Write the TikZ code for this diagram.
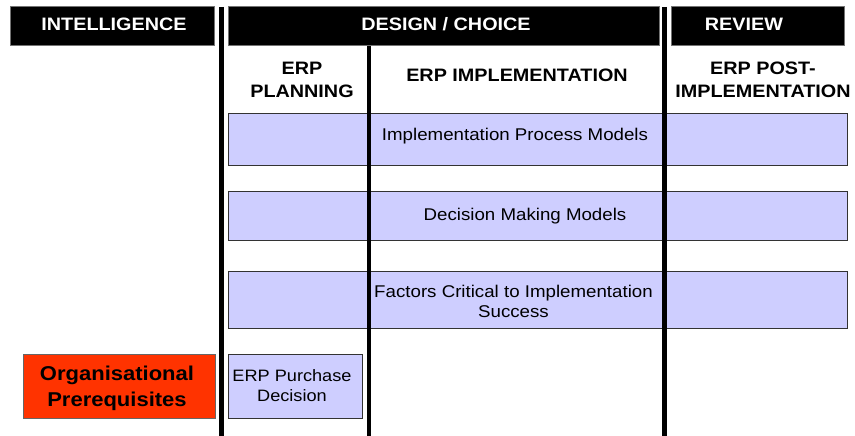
\documentclass[tikz,border=0pt]{standalone}
\usepackage{fontspec}
\setmainfont[FakeStretch=1.1]{Liberation Sans}
\definecolor{lav}{RGB}{206,206,255}
\definecolor{prereq}{RGB}{255,51,0}
\begin{document}
\begin{tikzpicture}[x=1pt,y=-1pt,
  bar/.style={fill=black,draw=black!55,line width=1pt},
  cell/.style={draw=black!80,line width=1pt,anchor=north west,inner sep=0pt,outer sep=0pt},
  rowbox/.style={cell,fill=lav},
  divider/.style={line width=4.5pt,black},
  head/.style={text=white,font=\fontsize{18}{22}\selectfont\bfseries,anchor=base,inner sep=0pt},
  colhead/.style={font=\fontsize{18}{22.7}\selectfont\bfseries,align=center,inner sep=0pt},
  rowtext/.style={font=\fontsize{17}{20}\selectfont,align=center,inner sep=0pt},
]
\useasboundingbox[fill=white] (0,0) rectangle (855,436);

% phase bars
\draw[bar] (10,7) rectangle (214,46);
\draw[bar] (228,7) rectangle (659,46);
\draw[bar] (671,7) rectangle (844,46);
\node[head] (intel) at (114,30.5) {INTELLIGENCE};
\node[head] (design) at (446,30.5) {DESIGN / CHOICE};
\node[head] (review) at (744,30.5) {REVIEW};

% column headings
\node[colhead,anchor=north] (planning) at (302,62) {ERP\\PLANNING};
\node[colhead,anchor=base] (impl) at (517,82) {ERP IMPLEMENTATION};
\node[colhead,anchor=north] (post) at (763,62) {ERP POST-\\IMPLEMENTATION};

% model rows spanning the design and review phases
\node[rowbox,minimum width=619pt,minimum height=51pt] (row1) at (228,114) {};
\node[rowbox,minimum width=619pt,minimum height=48.5pt] (row2) at (228,191.5) {};
\node[rowbox,minimum width=619pt,minimum height=57pt] (row3) at (228,271) {};
\node[rowtext,anchor=base] (ipm) at (515,140.5) {Implementation Process Models};
\node[rowtext,anchor=base] (dmm) at (525,220) {Decision Making Models};
\node[rowtext,anchor=north] (fcs) at (513.5,284.5) {Factors Critical to Implementation\\Success};

% bottom boxes
\node[cell,fill=prereq,draw=black!60,minimum width=192pt,minimum height=64pt] (orgbox) at (23,354) {};
\node[font=\fontsize{20}{26}\selectfont\bfseries,align=center,inner sep=0pt,anchor=north] (org) at (117,366.3) {Organisational\\Prerequisites};
\node[rowbox,minimum width=134pt,minimum height=64pt] (purchbox) at (228,354) {};
\node[font=\fontsize{16.5}{20.7}\selectfont,align=center,inner sep=0pt,anchor=north] (purch) at (292,369) {ERP Purchase\\Decision};

% phase dividers
\draw[divider] (221.5,7) -- (221.5,436);
\draw[divider] (369,46) -- (369,436);
\draw[divider] (664.5,7) -- (664.5,436);
\end{tikzpicture}
\end{document}
